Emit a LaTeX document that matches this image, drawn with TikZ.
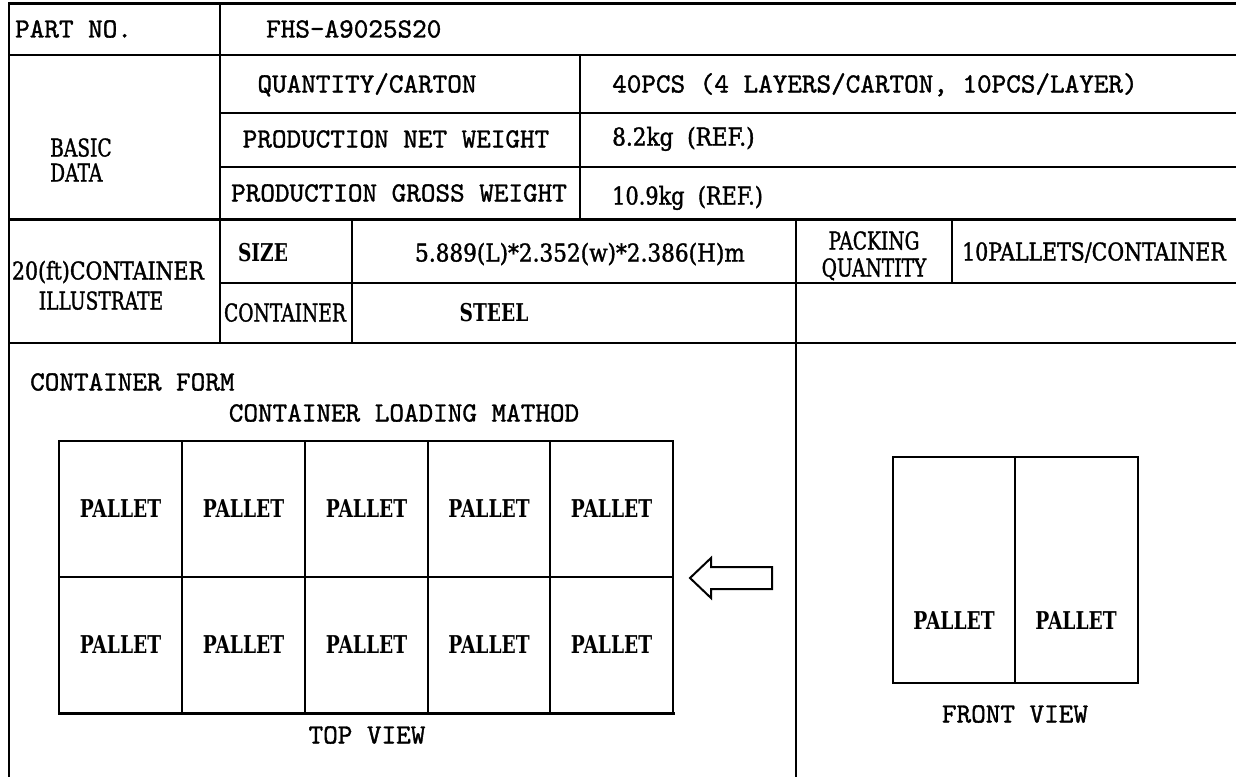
\documentclass[tikz,border=0pt]{standalone}
\usepackage{fontspec}
\newfontfamily\monof[FakeBold=1.3]{lmmono10-regular.otf}
\newfontfamily\serf[FakeStretch=0.76,FakeBold=1.3]{DejaVu Serif}
\newfontfamily\serbf[FakeStretch=0.76]{DejaVu Serif}
\newcommand\wx[2]{\scalebox{#1}[1]{#2}}
\tikzset{
  ln/.style={line width=2pt, line cap=rect},
  thk/.style={line width=3pt, line cap=rect},
  thn/.style={line width=1.5pt},
  mt/.style={inner sep=0pt, font={\fontsize{27.8}{30}\monof}},
  st/.style={inner sep=0pt, font={\fontsize{24.5}{27}\serf}},
  sb/.style={inner sep=0pt, font={\fontsize{24.5}{27}\serbf\bfseries}},
}
\begin{document}
\begin{tikzpicture}[x=1pt,y=-1pt]
\useasboundingbox (0,0) rectangle (1236,776);
% table lines
\draw[thk] (9,4) -- (1240,4);
\draw[ln] (9,55) -- (1240,55);
\draw[ln] (220,113) -- (1240,113);
\draw[ln] (220,167) -- (1240,167);
\draw[thk] (9,219) -- (1240,219);
\draw[ln] (220,283) -- (1240,283);
\draw[ln] (9,343) -- (1240,343);
\draw[ln] (9,4) -- (9,780);
\draw[ln] (220,4) -- (220,343);
\draw[ln] (580,55) -- (580,219);
\draw[ln] (352,219) -- (352,343);
\draw[ln] (796,219) -- (796,780);
\draw[ln] (952,219) -- (952,283);
% texts row 1
\node[mt, anchor=base west] (partno) at (15,37.5) {PART NO.};
\node[mt, anchor=base west] (partval) at (266,37.5) {FHS-A9025S20};
% basic data
\node[st, anchor=base west] (basic) at (50,156.5) {BASIC};
\node[st, anchor=base west] (data) at (50,181.5) {DATA};
\node[mt, anchor=base] (qty) at (367,92.5) {QUANTITY/CARTON};
\node[mt, anchor=base west] (qtyv) at (612,92.5) {40PCS (4 LAYERS/CARTON, 10PCS/LAYER)};
\node[mt, anchor=base] (net) at (396,147.5) {PRODUCTION NET WEIGHT};
\node[st, anchor=base west] (netv) at (612,145.5) {\wx{1.16}{8.2kg\ \ (REF.)}};
\node[mt, anchor=base] (gross) at (399,201.5) {PRODUCTION GROSS WEIGHT};
\node[st, anchor=base west] (grossv) at (612,204.5) {\wx{1.12}{10.9kg\ \ (REF.)}};
% container rows
\node[st, anchor=base] (c20) at (108,279.5) {\wx{1.1}{20(ft)CONTAINER}};
\node[st, anchor=base] (illu) at (101,309.5) {ILLUSTRATE};
\node[sb, anchor=base] (size) at (263,261.5) {SIZE};
\node[st, anchor=base] (sizev) at (580,261.5) {\wx{1.16}{5.889(L)*2.352(w)*2.386(H)m}};
\node[st, anchor=base] (pack) at (874,249.5) {PACKING};
\node[st, anchor=base] (packq) at (874,276.5) {QUANTITY};
\node[st, anchor=base] (packv) at (1094,260.5) {\wx{1.1}{10PALLETS/CONTAINER}};
\node[st, anchor=base] (cont) at (285,321.5) {CONTAINER};
\node[sb, anchor=base] (steel) at (494,321.5) {STEEL};
% bottom section
\node[mt, anchor=base west] (cform) at (30,390.5) {CONTAINER FORM};
\node[mt, anchor=base] (cload) at (404,421.5) {CONTAINER LOADING MATHOD};
% top view grid
\draw[thn] (59,441) rectangle (673,713);
\draw[thn] (59,577) -- (673,577);
\foreach \x in {182,305,428,550} \draw[thn] (\x,441) -- (\x,713);
\draw[thk] (59,713) -- (673,713);
\foreach \x/\n in {120.5/1,243.5/2,366.5/3,489/4,611.5/5}{
  \node[sb, anchor=base] (pt\n) at (\x,517.5) {PALLET};
  \node[sb, anchor=base] (pb\n) at (\x,653.5) {PALLET};
}
\node[mt, anchor=base] (topv) at (367,743.5) {TOP VIEW};
% arrow
\draw[ln, line join=miter, fill=white] (690,578) -- (711,558) -- (711,567) -- (772,567) -- (772,589) -- (711,589) -- (711,598) -- cycle;
% front view
\draw[ln] (893,457) rectangle (1138,683);
\draw[thn] (1015,457) -- (1015,683);
\node[sb, anchor=base] (fp1) at (954,629.5) {PALLET};
\node[sb, anchor=base] (fp2) at (1076,629.5) {PALLET};
\node[mt, anchor=base] (frontv) at (1015,722.5) {FRONT VIEW};
\end{tikzpicture}
\end{document}
